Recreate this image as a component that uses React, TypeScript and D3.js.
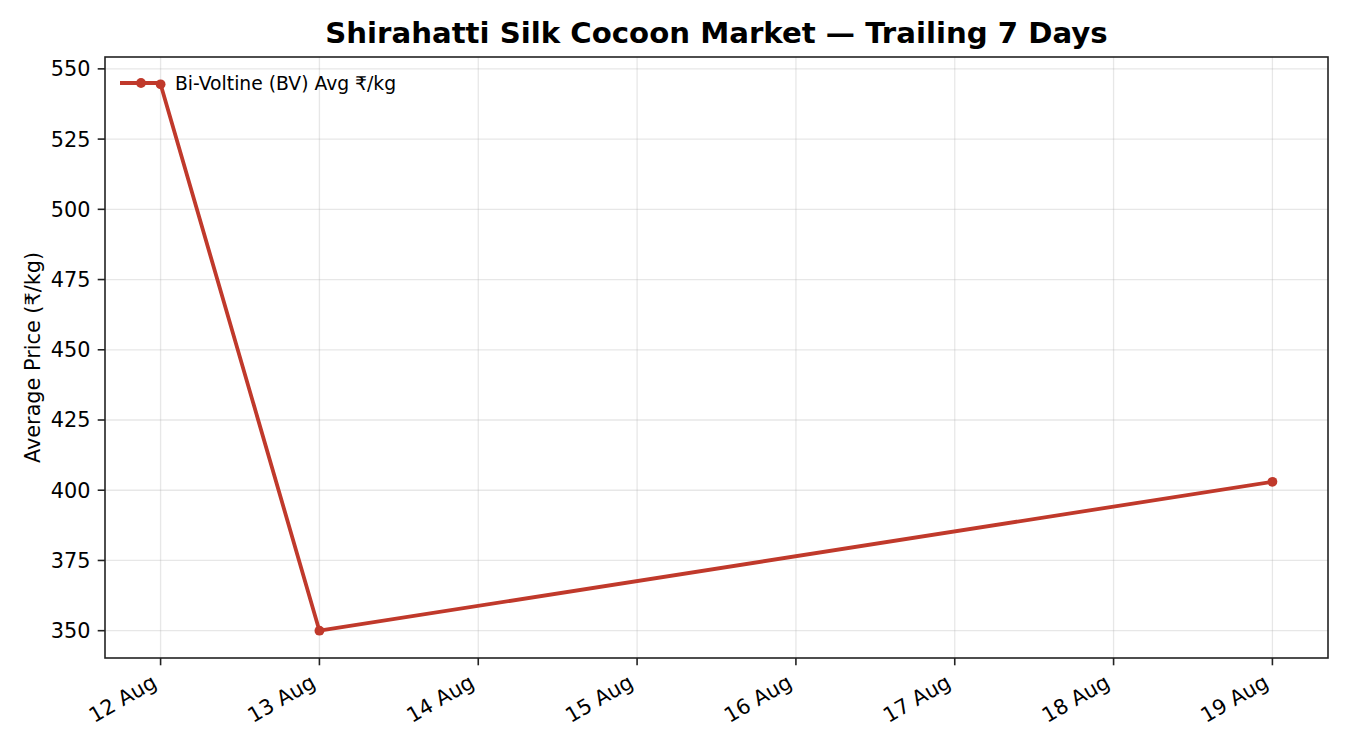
import React from "react";
import * as d3 from "d3";

// Trailing 7 days of Bi-Voltine cocoon prices
const dates: string[] = ["2024-08-12", "2024-08-13", "2024-08-19"];
const prices: number[] = [544.5, 350, 403];
const tickDays: string[] = ["2024-08-12", "2024-08-13", "2024-08-14", "2024-08-15", "2024-08-16", "2024-08-17", "2024-08-18", "2024-08-19"];
const yTicks: number[] = [350, 375, 400, 425, 450, 475, 500, 525, 550];

const W = 1350;
const H = 750;
const margin = { top: 57, right: 22, bottom: 92, left: 105 };
const RED = "#c0392b";
const FONT = "DejaVu Sans, sans-serif";

export default function App() {
  const width = W - margin.left - margin.right;
  const height = H - margin.top - margin.bottom;

  const parsed = dates.map((d) => new Date(d + "T00:00:00Z"));
  const points = parsed.map((d, i) => ({ date: d, value: prices[i] }));

  // matplotlib-style 5% margins
  const [t0, t1] = d3.extent(parsed) as [Date, Date];
  const tPad = (+t1 - +t0) * 0.05;
  const x = d3.scaleUtc().domain([new Date(+t0 - tPad), new Date(+t1 + tPad)]).range([0, width]);
  const [v0, v1] = d3.extent(prices) as [number, number];
  const vPad = (v1 - v0) * 0.05;
  const y = d3.scaleLinear().domain([v0 - vPad, v1 + vPad]).range([height, 0]);

  const line = d3.line<{ date: Date; value: number }>()
    .x((d) => x(d.date))
    .y((d) => y(d.value));

  const fmt = d3.utcFormat("%-d %b");
  const ticks = tickDays.map((d) => new Date(d + "T00:00:00Z"));

  const tickLen = 7.3;
  const pad = 7.3;
  const fs = 20.8;
  const asc = fs * 0.76;
  const desc = fs * 0.24;

  return (
    <svg width={W} height={H} style={{ position: "absolute", left: 0, top: 0, background: "#fff" }} fontFamily={FONT}>
      <text x={margin.left + width / 2} y={43} textAnchor="middle" fontSize={29.2} fontWeight="bold" fill="#000">
        Shirahatti Silk Cocoon Market — Trailing 7 Days
      </text>
      <g transform={`translate(${margin.left},${margin.top})`}>
        {/* Grid */}
        {ticks.map((t, i) => (
          <line key={"gx" + i} x1={x(t)} x2={x(t)} y1={0} y2={height} stroke="#b0b0b0" strokeOpacity={0.3} strokeWidth={1.3} />
        ))}
        {yTicks.map((v) => (
          <line key={"gy" + v} x1={0} x2={width} y1={y(v)} y2={y(v)} stroke="#b0b0b0" strokeOpacity={0.3} strokeWidth={1.3} />
        ))}

        {/* Series */}
        <path d={line(points) ?? ""} fill="none" stroke={RED} strokeWidth={3.8} strokeLinejoin="round" strokeLinecap="round" />
        {points.map((p, i) => (
          <circle key={"p" + i} cx={x(p.date)} cy={y(p.value)} r={4.9} fill={RED} />
        ))}

        {/* Spines */}
        <rect x={0} y={0} width={width} height={height} fill="none" stroke="#222" strokeWidth={1.6} />

        {/* X axis ticks */}
        {ticks.map((t, i) => (
          <g key={"xt" + i}>
            <line x1={x(t)} x2={x(t)} y1={height} y2={height + tickLen} stroke="#222" strokeWidth={1.6} />
            <text
              transform={`translate(${x(t) - desc * 0.5},${height + tickLen + pad + asc * 0.866}) rotate(-30)`}
              textAnchor="end"
              fontSize={fs}
              fill="#000"
            >
              {fmt(t)}
            </text>
          </g>
        ))}

        {/* Y axis ticks */}
        {yTicks.map((v) => (
          <g key={"yt" + v}>
            <line x1={-tickLen} x2={0} y1={y(v)} y2={y(v)} stroke="#222" strokeWidth={1.6} />
            <text x={-tickLen - pad} y={y(v)} dy="0.36em" textAnchor="end" fontSize={fs} fill="#000">
              {v}
            </text>
          </g>
        ))}

        <text transform={`translate(${33 - margin.left},${height / 2}) rotate(-90)`} textAnchor="middle" dominantBaseline="central" fontSize={fs} fill="#000">
          Average Price (₹/kg)
        </text>

        {/* Legend */}
        <g transform="translate(15,26)">
          <line x1={0} x2={42} y1={0} y2={0} stroke={RED} strokeWidth={3.8} />
          <circle cx={21} cy={0} r={4.9} fill={RED} />
          <text x={55} y={0} dy="0.36em" fontSize={18.75} fill="#000">
            Bi-Voltine (BV) Avg ₹/kg
          </text>
        </g>
      </g>
    </svg>
  );
}
